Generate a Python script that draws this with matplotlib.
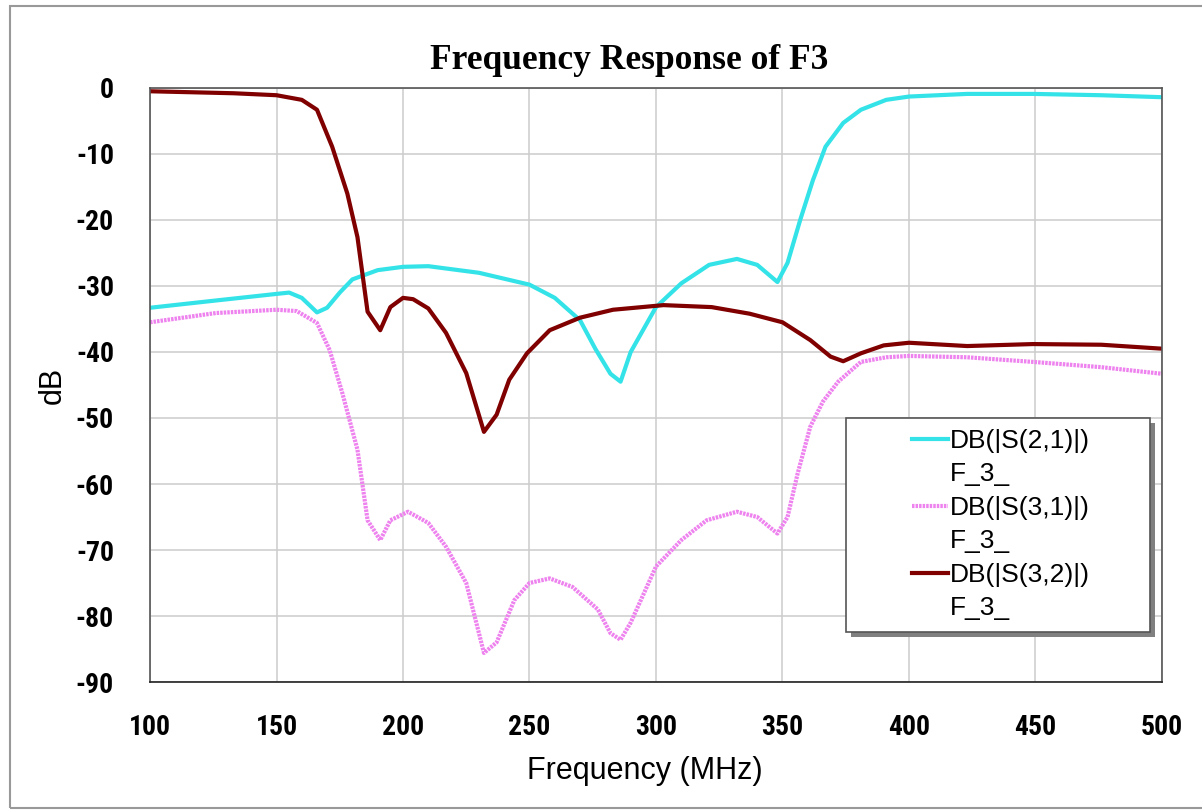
import numpy as np
import matplotlib
matplotlib.use("Agg")
import matplotlib.pyplot as plt
from matplotlib.patches import Rectangle
from matplotlib.lines import Line2D

plt.rcParams['axes.unicode_minus'] = False

# S21 (cyan)
f_s21 = [100, 126, 150, 155, 160, 166, 170, 175, 180, 190, 200, 210, 230, 250, 260, 270,
         276, 282, 286, 290, 300, 310, 321, 332, 340, 348, 352, 357, 362, 367, 374, 381,
         391, 400, 423, 449, 476, 500]
s21 = [-33.3, -32.2, -31.2, -31.0, -31.8, -34.0, -33.3, -31.0, -29.0, -27.6, -27.1, -27.0,
       -28.0, -29.8, -31.8, -35.2, -39.5, -43.3, -44.5, -40.0, -33.2, -29.6, -26.8, -25.9,
       -26.8, -29.4, -26.5, -20.0, -14.0, -8.9, -5.3, -3.3, -1.8, -1.3, -0.9, -0.9, -1.1, -1.4]

# S31 (violet)
f_s31 = [100, 126, 150, 158, 166, 171, 176, 182, 186, 191, 195, 202, 210, 217, 225, 232,
         237, 244, 250, 258, 267, 277, 282, 286, 290, 300, 310, 320, 332, 340, 348, 352,
         356, 361, 366, 372, 381, 391, 400, 423, 449, 476, 500]
s31 = [-35.5, -34.1, -33.6, -33.8, -35.6, -39.7, -46.2, -54.8, -65.5, -68.5, -65.5, -64.2,
       -65.9, -69.5, -75.0, -85.6, -84.0, -77.6, -75.0, -74.3, -75.6, -79.0, -82.6, -83.6,
       -81.0, -72.5, -68.5, -65.5, -64.2, -65.0, -67.5, -65.0, -58.4, -51.3, -47.5, -44.5,
       -41.5, -40.8, -40.6, -40.8, -41.5, -42.3, -43.3]

# S32 (dark red)
f_s32 = [100, 133, 150, 160, 166, 172, 178, 182, 186, 191, 195, 200, 204, 210, 217, 225,
         232, 237, 242, 249, 258, 270, 283, 303, 322, 337, 350, 361, 369, 374, 381, 390,
         400, 423, 449, 476, 500]
s32 = [-0.5, -0.8, -1.1, -1.8, -3.3, -8.9, -16.0, -22.6, -33.9, -36.7, -33.2, -31.8, -32.0,
       -33.4, -37.1, -43.2, -52.1, -49.5, -44.2, -40.2, -36.7, -34.8, -33.6, -32.9, -33.2,
       -34.2, -35.5, -38.2, -40.7, -41.4, -40.2, -39.0, -38.6, -39.1, -38.8, -38.9, -39.5]

trace_names = ['DB(|S(2,1)|)', 'DB(|S(3,1)|)', 'DB(|S(3,2)|)']
doc_name = 'F_3_'
xticks = [100, 150, 200, 250, 300, 350, 400, 450, 500]
yticks = [0, -10, -20, -30, -40, -50, -60, -70, -80, -90]

fig = plt.figure(figsize=(12.02, 8.10), dpi=100)
ax = fig.add_axes([0.1248, 0.158, 0.8419, 0.7334])

l1, = ax.plot(f_s21, s21, color='#33e3e8', lw=3)
l2, = ax.plot(f_s31, s31, color='#ee82ee', lw=3, linestyle=(0, (0.6, 0.25)))
l3, = ax.plot(f_s32, s32, color='#800000', lw=3)

ax.set_xlim(100, 500)
ax.set_ylim(-90, 0)
ax.set_xticks(xticks)
ax.set_yticks(yticks)
ax.grid(True, color='#cccccc', lw=1.1)
ax.set_axisbelow(True)
tick_font = ['Roboto Condensed', 'Liberation Sans']
for lab in ax.get_xticklabels() + ax.get_yticklabels():
    lab.set_fontfamily(tick_font)
    lab.set_fontweight('bold')
    lab.set_fontsize(20)
ax.tick_params(axis='x', length=0, pad=23)
ax.tick_params(axis='y', length=0, pad=26)
for s in ax.spines.values():
    s.set_color('#555555')
    s.set_linewidth(1.2)
ax.spines['bottom'].set_color('#222222')

ax.set_xlabel('Frequency (MHz)', fontsize=22, family='Liberation Sans')
ax.xaxis.set_label_coords(0.489, -0.125)
ax.set_ylabel('dB', fontsize=22, family='Liberation Sans', labelpad=6)
ax.set_title('Frequency Response of F3', fontsize=25.5, family='Liberation Serif',
             fontweight='bold', pad=14, x=0.474)

# legend frame with drop shadow
ax.add_patch(Rectangle((0.6927, 0.0758), 0.3004, 0.3602, transform=ax.transAxes,
                       facecolor='#808080', edgecolor='none', zorder=5, clip_on=False))
ax.add_patch(Rectangle((0.6877, 0.0842), 0.3004, 0.3602, transform=ax.transAxes,
                       facecolor='white', edgecolor='#555555', lw=1.2, zorder=6, clip_on=False))

blank = Line2D([], [], color='none')
handles = [l1, blank, l2, blank, l3, blank]
labels = [trace_names[0], doc_name, trace_names[1], doc_name, trace_names[2], doc_name]
leg = ax.legend(handles, labels, loc='upper left', bbox_to_anchor=(0.753, 0.426),
                frameon=False, borderpad=0, borderaxespad=0, handlelength=1.35,
                handletextpad=0.1, labelspacing=0.36,
                prop={'family': 'Liberation Sans', 'size': 19})
leg.set_zorder(7)

fig.patches.append(Rectangle((0.008, 0.002), 1.2, 0.99, transform=fig.transFigure,
                             fill=False, edgecolor='#999999', lw=1.5))

fig.savefig('out.png', dpi=100)
